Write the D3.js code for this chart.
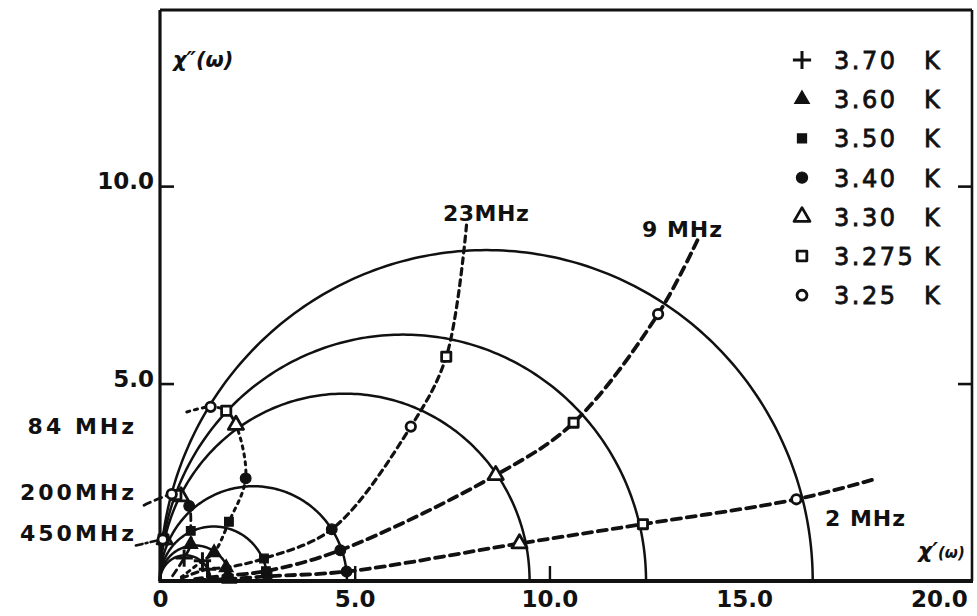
<!DOCTYPE html>
<html>
<head>
<meta charset="utf-8">
<script src="https://cdn.jsdelivr.net/npm/d3@7"></script>
<style>
  body { margin: 0; background: #fff; }
  svg { display: block; }
  text { fill: #111; font-family: "DejaVu Sans", "Noto Sans", sans-serif; }
</style>
</head>
<body>
<svg id="chart" width="977" height="616"></svg>
<script>
// Cole–Cole plot: χ''(ω) against χ'(ω) for several temperatures.

// Temperatures and the static susceptibility (diameter of each semicircle)
const temperatures = ["3.70", "3.60", "3.50", "3.40", "3.30", "3.275", "3.25"];
const chiStatic    = [1.30, 1.80, 2.76, 4.80, 9.49, 12.48, 16.76];
const markerShapes = ["plus", "triangle", "square", "circle", "triangle", "square", "circle"];
const markerFilled = [true, true, true, true, false, false, false];

// Measured frequencies (iso-frequency curves)
const frequencies = ["2 MHz", "9 MHz", "23 MHz", "84 MHz", "200 MHz", "450 MHz"];

// Measured points [χ', χ''] at 2, 9, 23, 84, 200, 450 MHz (null = not measured)
const pts370  = [null, null, [1.22, 0.30], [1.09, 0.51], [0.62, 0.58], null];
const pts360  = [[1.78, 0.05], [1.74, 0.14], [1.70, 0.34], [1.39, 0.72], [0.79, 0.93], null];
const pts350  = [[2.76, 0.12], [2.72, 0.25], [2.67, 0.57], [1.77, 1.50], [0.79, 1.27], null];
const pts340  = [[4.79, 0.24], [4.63, 0.78], [4.41, 1.31], [2.20, 2.60], [0.75, 1.90], null];
const pts330  = [[9.23, 0.95], [8.62, 2.68], null, [1.95, 3.95], [0.54, 2.14], [0.12, 1.05]];
const pts3275 = [[12.40, 1.44], [10.62, 4.01], [7.35, 5.68], [1.70, 4.31], [0.42, 2.18], [0.09, 1.05]];
const pts325  = [[16.34, 2.07], [12.79, 6.76], [6.44, 3.91], [1.30, 4.41], [0.30, 2.20], [0.07, 1.05]];
const pointsByTemp = [pts370, pts360, pts350, pts340, pts330, pts3275, pts325];

// Ends of the iso-frequency curves beyond the outermost / innermost points
const curveHeads = [[18.28, 2.56], [13.80, 8.63], [7.87, 9.01], [0.69, 4.28], [-0.41, 1.92], [-0.62, 0.90]];
const curveTails = [[0.80, 0.02], [0.90, 0.05], [0.50, 0.05], [0.55, 0.10], [0.30, 0.10], null];

// Axis ticks
const xLabelTicks = [0, 5, 10, 15, 20];
const xMarkTicks = [5, 10];
const yTicks = [5, 10];

const svg = d3.select("#chart");
const x = d3.scaleLinear().domain([0, 20.85]).range([160, 972]);
const y = d3.scaleLinear().domain([0, 14.46]).range([581, 10]);

// Frame
const frame = svg.append("g").attr("fill", "none").attr("stroke", "#111");
frame.append("line").attr("x1", x(0)).attr("x2", x(20.85)).attr("y1", y(14.46)).attr("y2", y(14.46)).attr("stroke-width", 3);
frame.append("line").attr("x1", x(20.85)).attr("x2", x(20.85)).attr("y1", y(14.46)).attr("y2", y(0)).attr("stroke-width", 2.6);

// Axes
const fmt = d => d === 0 ? "0" : d3.format(".1f")(d);
const axisFont = g => g.selectAll("text")
  .attr("font-family", "DejaVu Sans, sans-serif").attr("font-weight", "bold")
  .attr("font-size", 23).attr("fill", "#111");

const yAxis = svg.append("g").attr("transform", `translate(${x(0)},0)`)
  .call(d3.axisLeft(y).tickValues(yTicks).tickSize(-14).tickPadding(6).tickFormat(fmt));
yAxis.select(".domain").remove();
yAxis.selectAll("line").attr("stroke", "#111").attr("stroke-width", 2.6);
yAxis.call(axisFont).selectAll("text").attr("dy", "0.12em");

const yAxisR = svg.append("g").attr("transform", `translate(${x(20.85)},0)`)
  .call(d3.axisRight(y).tickValues(yTicks).tickSize(-14).tickFormat(""));
yAxisR.select(".domain").remove();
yAxisR.selectAll("line").attr("stroke", "#111").attr("stroke-width", 2.6);

const xAxis = svg.append("g").attr("transform", `translate(0,${y(0)})`)
  .call(d3.axisBottom(x).tickValues(xLabelTicks).tickSize(0).tickPadding(10).tickFormat(fmt));
xAxis.select(".domain").remove();
xAxis.call(axisFont);

const xMarks = svg.append("g").attr("transform", `translate(0,${y(0)})`)
  .call(d3.axisBottom(x).tickValues(xMarkTicks).tickSize(-15).tickFormat(""));
xMarks.select(".domain").remove();
xMarks.selectAll("line").attr("stroke", "#111").attr("stroke-width", 2.4);

// Left axis line
svg.append("line").attr("x1", x(0)).attr("x2", x(0)).attr("y1", y(14.46)).attr("y2", y(0))
  .attr("stroke", "#111").attr("stroke-width", 3.2);

// Semicircular Cole–Cole arcs
const arcLine = d3.line().x(d => x(d[0])).y(d => y(d[1]));
const angles = d3.range(0, 181).map(a => a * Math.PI / 180);
svg.append("g").selectAll("path").data(chiStatic).join("path")
  .attr("fill", "none").attr("stroke", "#111").attr("stroke-width", 2.5)
  .attr("d", c => arcLine(angles.map(t => [c / 2 + (c / 2) * Math.cos(t), (c / 2) * Math.sin(t)])));

// Iso-frequency curves
const freqStyles = [
  { dash: "9 6", width: 3.8 },
  { dash: "9 6", width: 3.8 },
  { dash: "6 5", width: 3.2 },
  { dash: "3 5", width: 3 },
  { dash: "7 5", width: 2.8 },
  { dash: "7 3 2 3", width: 2.6 }
];
const curve = d3.line().x(d => x(d[0])).y(d => y(d[1])).curve(d3.curveCatmullRom.alpha(0.5));
frequencies.forEach((f, i) => {
  let pts = pointsByTemp.map(p => p[i]).filter(p => p);
  if (i <= 2) pts.sort((a, b) => b[0] - a[0]);
  else pts.reverse();
  const path = [curveHeads[i], ...pts];
  if (curveTails[i]) path.push(curveTails[i]);
  svg.append("path").attr("fill", "none").attr("stroke", "#111")
    .attr("stroke-width", freqStyles[i].width).attr("stroke-dasharray", freqStyles[i].dash)
    .attr("stroke-linecap", "round").attr("d", curve(path));
});

// Bottom axis line
svg.append("line").attr("x1", x(0) - 1.5).attr("x2", x(20.85) + 1).attr("y1", y(0)).attr("y2", y(0))
  .attr("stroke", "#111").attr("stroke-width", 4);

// Markers
const symbolFor = s => s === "plus" ? (d3.symbolPlus || d3.symbolCross)
  : s === "triangle" ? d3.symbolTriangle : s === "square" ? d3.symbolSquare : d3.symbolCircle;
const sizeFor = (s, filled) => s === "plus" ? 100 : s === "triangle" ? (filled ? 85 : 100)
  : s === "square" ? (filled ? 75 : 85) : (filled ? 90 : 70);
function drawMarker(g, shape, filled, cx, cy, scale = 1) {
  const p = g.append("path")
    .attr("d", d3.symbol().type(symbolFor(shape)).size(sizeFor(shape, filled) * scale)())
    .attr("transform", `translate(${cx},${cy})`);
  if (shape === "plus") p.attr("fill", "none").attr("stroke", "#111").attr("stroke-width", 3);
  else if (filled) p.attr("fill", "#111").attr("stroke", "#111").attr("stroke-width", 1.2);
  else p.attr("fill", "#fff").attr("stroke", "#111").attr("stroke-width", 2.8).attr("stroke-linejoin", "round");
}
const markerLayer = svg.append("g");
pointsByTemp.forEach((pts, ti) => pts.forEach(p => {
  if (p) drawMarker(markerLayer, markerShapes[ti], markerFilled[ti], x(p[0]), y(p[1]));
}));

// Legend
const legend = svg.append("g");
temperatures.forEach((t, i) => {
  const cy = 60 + i * 39.2;
  drawMarker(legend, markerShapes[i], markerFilled[i], 802, cy, 1.1);
  legend.append("text").attr("x", 834).attr("y", cy + 9).attr("font-size", 24)
    .attr("letter-spacing", 2.5).attr("stroke", "#111").attr("stroke-width", 0.8).text(t);
  legend.append("text").attr("x", 924).attr("y", cy + 9).attr("font-size", 24)
    .attr("stroke", "#111").attr("stroke-width", 0.8).text("K");
});

// Frequency labels
const freqLabels = svg.append("g").attr("font-weight", "bold").attr("font-size", 22);
freqLabels.append("text").attr("x", 825).attr("y", 526).attr("letter-spacing", 1).text("2 MHz");
freqLabels.append("text").attr("x", 642).attr("y", 237).attr("letter-spacing", 1).text("9 MHz");
freqLabels.append("text").attr("x", 443).attr("y", 221).attr("letter-spacing", 0.5).text("23MHz");
freqLabels.append("text").attr("x", 137).attr("y", 434).attr("text-anchor", "end").attr("letter-spacing", 3).text("84 MHz");
freqLabels.append("text").attr("x", 137).attr("y", 500).attr("text-anchor", "end").attr("letter-spacing", 3).text("200MHz");
freqLabels.append("text").attr("x", 137).attr("y", 541).attr("text-anchor", "end").attr("letter-spacing", 3).text("450MHz");

// Axis titles
svg.append("text").attr("x", 173).attr("y", 67).attr("font-size", 21).attr("font-weight", "bold")
  .attr("font-style", "italic").text("χ″(ω)");
svg.append("text").attr("x", 918).attr("y", 558).attr("font-size", 22).attr("font-style", "italic")
  .attr("font-weight", "bold")
  .call(t => { t.append("tspan").text("χ′"); t.append("tspan").attr("font-size", 15).text("(ω)"); });
</script>
</body>
</html>
